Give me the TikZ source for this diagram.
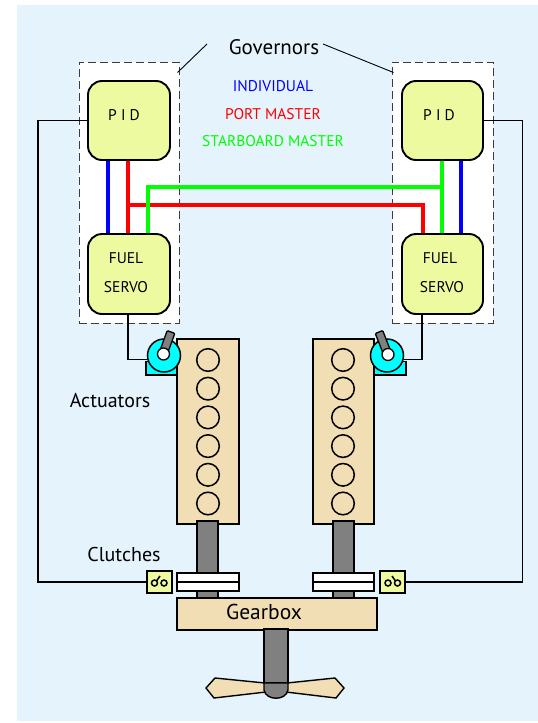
\documentclass[tikz,border=0pt]{standalone}
\usepackage{fontspec}
\setmainfont{PT Sans}
\usetikzlibrary{calc}
\definecolor{bgblue}{RGB}{229,243,253}
\definecolor{boxyellow}{RGB}{238,250,160}
\definecolor{wheatfill}{RGB}{242,222,180}
\definecolor{shaftgrey}{RGB}{128,128,128}
\definecolor{dashgrey}{RGB}{60,60,60}
\definecolor{actcyan}{RGB}{0,255,255}
\definecolor{busgreen}{RGB}{0,255,0}
\definecolor{busred}{RGB}{255,0,0}
\definecolor{busblue}{RGB}{0,0,255}
\tikzset{
  govbox/.style={draw=dashgrey, dash pattern=on 8pt off 4pt, fill=white, line width=1pt, rectangle, inner sep=0pt},
  ctrl/.style={draw=black, rounded corners=14pt, fill=boxyellow, line width=1.9pt, rectangle, inner sep=0pt},
  sig/.style={draw=black, line width=1.4pt},
  bus/.style={line width=3.3pt},
  block/.style={draw=black, line width=1.8pt, fill=wheatfill, rectangle, inner sep=0pt},
  cyl/.style={draw=black, line width=1.5pt},
  shaft/.style={draw=black, line width=1.5pt, fill=shaftgrey, rectangle, inner sep=0pt},
  plate/.style={draw=black, line width=1.5pt, fill=white, rectangle, inner sep=0pt},
  clbox/.style={draw=black, line width=1.5pt, fill=boxyellow, rectangle, inner sep=0pt, minimum width=25pt, minimum height=22pt},
  bigtxt/.style={font=\fontsize{20}{22}\selectfont, inner sep=0pt},
  smalltxt/.style={font=\fontsize{15.5}{17}\selectfont, inner sep=0pt},
}
\begin{document}
\begin{tikzpicture}[x=1pt,y=-1pt]
\useasboundingbox (0,0) rectangle (538,723);
\fill[bgblue] (17,5) rectangle (538,721);

% governor enclosures
\node[govbox, minimum width=100pt, minimum height=261pt] (govL) at (129,192.5) {};
\node[govbox, minimum width=101pt, minimum height=261pt] (govR) at (442.5,192.5) {};

\node[bigtxt, font=\fontsize{21}{23}\selectfont] (govtxt) at (274,47) {Governors};
\coordinate (govtipL) at (207,44);
\coordinate (govtipR) at (323,44);
\draw[line width=0.9pt] (govtipL) -- ([xshift=-2pt,yshift=-11pt]govL.north east);
\draw[line width=0.9pt] (govtipR) -- ([xshift=2pt,yshift=-11pt]govR.north west);

% controllers
\node[ctrl, minimum width=82pt, minimum height=79pt] (pidL) at (129,120.5) {};
\node[ctrl, minimum width=81pt, minimum height=79pt] (pidR) at (442.5,120.5) {};
\node[ctrl, minimum width=82pt, minimum height=80pt] (fuelL) at (129,274) {};
\node[ctrl, minimum width=81pt, minimum height=80pt] (fuelR) at (442.5,274) {};
\node[smalltxt] (pidLt) at (124,115) {P I D};
\node[smalltxt] (pidRt) at (439,115) {P I D};
\node[smalltxt] (fuelLa) at (126,258) {FUEL};
\node[smalltxt] (fuelLb) at (126,287) {SERVO};
\node[smalltxt] (fuelRa) at (440,258) {FUEL};
\node[smalltxt] (fuelRb) at (442,287) {SERVO};

% mode buses
\coordinate (redtap) at (128,205);
\coordinate (greentap) at (442,187);
\draw[bus, busblue] ([xshift=-21pt]pidL.south) -- ([xshift=-21pt]fuelL.north);
\draw[bus, busred] ([xshift=-1pt]pidL.south) -- ([xshift=-1pt]fuelL.north);
\draw[bus, busred] (redtap) -| ([xshift=-19.5pt]fuelR.north);
\draw[bus, busgreen] ([xshift=-0.5pt]pidR.south) -- ([xshift=-0.5pt]fuelR.north);
\draw[bus, busgreen] ([xshift=19pt]fuelL.north) |- (greentap);
\draw[bus, busblue] ([xshift=18.5pt]pidR.south) -- ([xshift=18.5pt]fuelR.north);

\node[smalltxt, text=busblue] (lindiv) at (273,86) {INDIVIDUAL};
\node[smalltxt, text=busred] (lport) at (273,114) {PORT MASTER};
\node[smalltxt, text=busgreen] (lstbd) at (273,141) {STARBOARD MASTER};

% engines
\node[block, minimum width=62pt, minimum height=185pt] (engL) at (208,431.5) {};
\node[block, minimum width=61pt, minimum height=185pt] (engR) at (343.5,431.5) {};
\foreach \k in {0,...,5} {
  \draw[cyl] (208,360+28.7*\k) circle[radius=11.3];
  \draw[cyl] (343,360+28.7*\k) circle[radius=11.3];
}

% actuators
\draw[line width=1.5pt, fill=actcyan] (146,361.5) rectangle (177,375);
\node[circle, draw=black, line width=1.5pt, fill=actcyan, minimum size=33pt, inner sep=0pt] (actL) at (164,355.5) {};
\draw[line width=1.3pt, fill=shaftgrey, rounded corners=1pt] (159.2,352.6) -- (166.8,355.4) -- (174.8,333.4) -- (167.2,330.6) -- cycle;
\draw[line width=1.3pt, fill=white] (163.5,354) circle[radius=6];

\draw[line width=1.5pt, fill=actcyan] (374,361.5) rectangle (406,375);
\node[circle, draw=black, line width=1.5pt, fill=actcyan, minimum size=33pt, inner sep=0pt] (actR) at (387,355.5) {};
\draw[line width=1.3pt, fill=shaftgrey, rounded corners=1pt] (384.3,356.5) -- (391.7,353.5) -- (382.7,330.5) -- (375.3,333.5) -- cycle;
\draw[line width=1.3pt, fill=white] (388,354.5) circle[radius=6];

\node[bigtxt] (actlbl) at (110,401) {Actuators};

% servo to actuator wires
\draw[sig] ([xshift=-1pt]fuelL.south) |- ([yshift=-4pt]actL.west);
\draw[sig] ([xshift=-20.5pt]fuelR.south) |- ([yshift=-4pt]actR.east);

% shafts and clutches
\node[shaft, minimum width=21pt, minimum height=52pt] (shL) at (207.5,547) {};
\node[shaft, minimum width=21pt, minimum height=52pt] (shR) at (343.5,547) {};
\node[shaft, minimum width=21pt, minimum height=8pt] (shL2) at (207.5,594.5) {};
\node[shaft, minimum width=21pt, minimum height=8pt] (shR2) at (343.5,594.5) {};
\node[plate, minimum width=62pt, minimum height=9pt] (plL1) at (208,577.5) {};
\node[plate, minimum width=62pt, minimum height=9pt] (plL2) at (208,586.5) {};
\node[plate, minimum width=61pt, minimum height=9pt] (plR1) at (343.5,577.5) {};
\node[plate, minimum width=61pt, minimum height=9pt] (plR2) at (343.5,586.5) {};

\node[clbox] (clL) at (159.5,582) {};
\node[clbox] (clR) at (392.5,582) {};
\draw[line width=1.5pt] (154.5,583) circle[radius=3] (164,583) circle[radius=3];
\draw[line width=1.5pt] (156.8,580.6) -- (160,576);
\draw[line width=1.5pt] (388,583) circle[radius=3] (397.5,583) circle[radius=3];
\draw[line width=1.5pt] (395.2,580.6) -- (392,576);

\node[bigtxt] (cllbl) at (124,554) {Clutches};

% clutch signal wires
\draw[sig] (pidL.west) -- ++(-49,0) |- (clL.west);
\draw[sig] (pidR.east) -- ++(38.5,0) |- (clR.east);

% gearbox and propeller
\node[block, minimum width=200pt, minimum height=32pt] (gbox) at (277,614) {};
\node[bigtxt, font=\fontsize{21.5}{23}\selectfont] (gblbl) at (264,612) {Gearbox};
\draw[line width=1.4pt, fill=wheatfill] (265,683) -- (215,678) -- (206,688) -- (214,698) -- (266,692) -- cycle;
\draw[line width=1.4pt, fill=wheatfill] (287,683) -- (335,678) -- (344,688) -- (336,698) -- (286,692) -- cycle;
\node[shaft, minimum width=24pt, minimum height=54pt] (prop) at (276,656) {};
\draw[line width=1.4pt, fill=shaftgrey] (264,683) -- (264,690) .. controls (266,701) and (286,701) .. (288,690) -- (288,683) -- cycle;
\end{tikzpicture}
\end{document}
